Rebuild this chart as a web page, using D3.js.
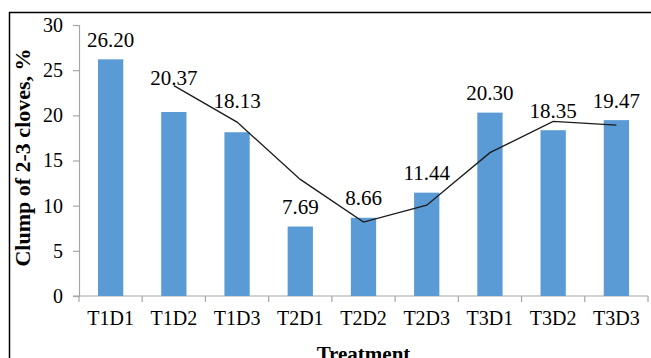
<!DOCTYPE html>
<html>
<head>
<meta charset="utf-8">
<script src="https://cdn.jsdelivr.net/npm/d3@7"></script>
<style>
  html, body { margin: 0; padding: 0; background: #fff; }
  svg { display: block; }
  svg text { font-family: "Liberation Serif", "Tinos", "Times New Roman", "DejaVu Serif", serif !important; fill: #000; }
</style>
</head>
<body>
<svg id="chart" width="651" height="358"></svg>
<script>
// Treatments and measured clump share (%)
const categories = ["T1D1", "T1D2", "T1D3", "T2D1", "T2D2", "T2D3", "T3D1", "T3D2", "T3D3"];
const clumpValues = [26.20, 20.37, 18.13, 7.69, 8.66, 11.44, 20.30, 18.35, 19.47];
// Two-period moving-average trendline, starting at the second treatment
const trendCategories = ["T1D2", "T1D3", "T2D1", "T2D2", "T2D3", "T3D1", "T3D2", "T3D3"];
const trendValues = [23.29, 19.25, 12.91, 8.18, 10.05, 15.87, 19.33, 18.91];
const yTicks = [0, 5, 10, 15, 20, 25, 30];

const serif = "'Liberation Serif', 'Tinos', 'Times New Roman', 'DejaVu Serif', serif";
const svg = d3.select("#chart");

// Outer frame
svg.append("rect")
  .attr("x", 9.5).attr("y", 12.5)
  .attr("width", 660).attr("height", 360)
  .attr("fill", "none").attr("stroke", "#000").attr("stroke-width", 1.5);

const plot = { left: 79, right: 648, top: 25, bottom: 296 };

const x = d3.scaleBand()
  .domain(categories)
  .range([plot.left, plot.right])
  .paddingInner(0.6)
  .paddingOuter(0.3);

const y = d3.scaleLinear().domain([0, 30]).range([plot.bottom, plot.top]);

const axisColor = "#a6a6a6";

// Y axis
const yAxis = svg.append("g")
  .attr("transform", `translate(${plot.left},0)`)
  .attr("font-family", serif)
  .call(d3.axisLeft(y).tickValues(yTicks).tickSize(6).tickPadding(10).tickFormat(d3.format("d")));
yAxis.attr("font-family", serif);
yAxis.select(".domain").attr("stroke", axisColor).attr("stroke-width", 1.2);
yAxis.selectAll(".tick line").attr("stroke", axisColor).attr("stroke-width", 1.2);
yAxis.selectAll(".tick text")
  .style("font-family", serif)
  .attr("font-size", 20).attr("fill", "#000");

// X axis: category labels, baseline, and tick marks on category boundaries
const xAxis = svg.append("g")
  .attr("transform", `translate(0,${plot.bottom})`)
  .call(d3.axisBottom(x).tickSize(0).tickPadding(15));
xAxis.attr("font-family", serif);
xAxis.select(".domain").remove();
xAxis.selectAll(".tick text")
  .style("font-family", serif)
  .attr("font-size", 20).attr("fill", "#000");

xAxis.append("line")
  .attr("x1", plot.left - 6).attr("x2", plot.right)
  .attr("y1", 0).attr("y2", 0)
  .attr("stroke", axisColor).attr("stroke-width", 1.2);

const step = x.step();
const bounds = categories.map((c, i) => plot.left + i * step).concat([plot.left + categories.length * step]);
xAxis.selectAll("line.bound")
  .data(bounds)
  .join("line")
  .attr("class", "bound")
  .attr("x1", d => d).attr("x2", d => d)
  .attr("y1", 0).attr("y2", 6)
  .attr("stroke", axisColor).attr("stroke-width", 1.2);

// Bars
svg.append("g")
  .selectAll("rect")
  .data(categories.map((c, i) => ({ c, v: clumpValues[i] })))
  .join("rect")
  .attr("x", d => x(d.c))
  .attr("y", d => y(d.v))
  .attr("width", x.bandwidth())
  .attr("height", d => y(0) - y(d.v))
  .attr("fill", "#5b9bd5");

// Trendline
const line = d3.line()
  .x(d => x(d.c) + x.bandwidth() / 2)
  .y(d => y(d.v));
svg.append("path")
  .datum(trendCategories.map((c, i) => ({ c, v: trendValues[i] })))
  .attr("d", line)
  .attr("fill", "none")
  .attr("stroke", "#1a1a1a")
  .attr("stroke-width", 1.3);

// Value labels (two are lifted clear of the trendline)
const lift = { "T1D2": 14.5, "T1D3": 11.5 };
svg.append("g")
  .selectAll("text")
  .data(categories.map((c, i) => ({ c, v: clumpValues[i] })))
  .join("text")
  .attr("x", d => x(d.c) + x.bandwidth() / 2)
  .attr("y", d => y(d.v) - 12.6 - (lift[d.c] || 0))
  .attr("text-anchor", "middle")
  .style("font-family", serif)
  .attr("font-size", 21)
  .text(d => d.v.toFixed(2));

// Axis titles
svg.append("text")
  .attr("x", (plot.left + plot.right) / 2)
  .attr("y", 361)
  .attr("text-anchor", "middle")
  .style("font-family", serif)
  .attr("font-size", 21)
  .attr("font-weight", "bold")
  .text("Treatment");

svg.append("text")
  .attr("transform", `translate(30,${(plot.top + plot.bottom) / 2 - 3}) rotate(-90)`)
  .attr("text-anchor", "middle")
  .style("font-family", serif)
  .attr("font-size", 22)
  .attr("font-weight", "bold")
  .text("Clump of 2-3 cloves, %");
</script>
</body>
</html>
